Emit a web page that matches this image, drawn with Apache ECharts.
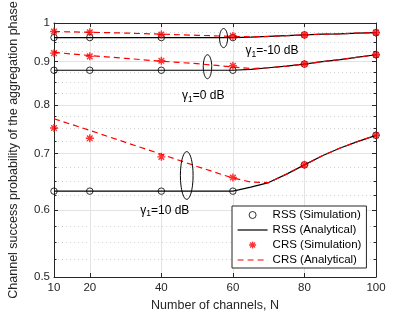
<!DOCTYPE html>
<html><head><meta charset="utf-8">
<script src="https://cdn.jsdelivr.net/npm/echarts@6/dist/echarts.min.js"></script>
<style>html,body{margin:0;padding:0;background:#fff}#c{width:415px;height:312px}</style>
</head><body><div id="c"></div>
<script>
const FONT = '"Liberation Sans", Arial, Helvetica, sans-serif';

// ---- data ----
const simN = [10, 20, 40, 60, 80, 100];
const rssSimM10 = [0.961, 0.961, 0.961, 0.961, 0.968, 0.974];
const rssSim0   = [0.879, 0.879, 0.879, 0.879, 0.894, 0.917];
const rssSim10  = [0.632, 0.632, 0.632, 0.632, 0.679, 0.736];
const crsSimM10 = [0.977, 0.975, 0.969, 0.965, 0.968, 0.974];
const crsSim0   = [0.921, 0.913, 0.902, 0.890, 0.894, 0.917];
const crsSim10  = [0.751, 0.730, 0.694, 0.656, 0.679, 0.736];

const anaN = [10, 20, 30, 40, 50, 60, 65, 70, 75, 80, 85, 90, 95, 100];
const rssAnaM10 = [0.961, 0.961, 0.961, 0.961, 0.961, 0.961, 0.962, 0.964, 0.966, 0.968, 0.970, 0.971, 0.973, 0.974];
const rssAna0   = [0.879, 0.879, 0.879, 0.879, 0.879, 0.879, 0.881, 0.885, 0.889, 0.894, 0.900, 0.905, 0.911, 0.917];
const rssAna10  = [0.632, 0.632, 0.632, 0.632, 0.632, 0.632, 0.639, 0.647, 0.662, 0.679, 0.696, 0.711, 0.724, 0.736];
const crsAnaM10 = [0.977, 0.975, 0.973, 0.970, 0.967, 0.964, 0.963, 0.964, 0.966, 0.968, 0.970, 0.971, 0.973, 0.974];
const crsAna0   = [0.923, 0.915, 0.908, 0.901, 0.895, 0.887, 0.883, 0.885, 0.889, 0.894, 0.900, 0.905, 0.911, 0.917];
const crsAna10  = [0.770, 0.746, 0.722, 0.699, 0.676, 0.655, 0.648, 0.647, 0.662, 0.679, 0.696, 0.711, 0.724, 0.736];

const xTicks = [10, 20, 40, 60, 80, 100];
const yTicks = [0.5, 0.6, 0.7, 0.8, 0.9, 1];
const yMinorTicks = [0.525, 0.55, 0.575, 0.625, 0.65, 0.675, 0.725, 0.75, 0.775, 0.825, 0.85, 0.875, 0.925, 0.95, 0.975];

const legendNames = ['RSS (Simulation)', 'RSS (Analytical)', 'CRS (Simulation)', 'CRS (Analytical)'];

// annotations (data space)
const snrLabels = ['-10', '0', '10'];
const ellipseN = [57.4, 52.9, 47.1];
const ellipseHalfN = [1.12, 1.18, 1.77];
const ellipseTop = [0.985, 0.917, 0.704];
const ellipseBottom = [0.935, 0.859, 0.618];
const labelN = [63.5, 45.8, 34.1];
const labelY = [0.926, 0.820, 0.600];

// ---- build ----
const pairs = (xs, ys) => xs.map((x, i) => [x, ys[i]]);
const ASTER = 'path://M5,0L5,10M0,5L10,5M1.5,1.5L8.5,8.5M1.5,8.5L8.5,1.5';
const AX = '#262626';

function lineSeries(name, ys, color, dashed) {
  return {
    type: 'line', name, data: pairs(anaN, ys), symbol: 'none', silent: true, z: 3,
    lineStyle: { color, width: 1.2, type: dashed ? [6, 4] : 'solid' }, itemStyle: { color }
  };
}

const minorAxisCommon = {
  type: 'log', logBase: 10, min: 0.5, max: 1,
  axisLine: { show: false }, axisLabel: { show: false }
};

const option = {
  animation: false,
  backgroundColor: '#fff',
  grid: { left: 54, top: 23, width: 322, height: 254, containLabel: false, outerBoundsMode: 'none', show: false },
  xAxis: [
    {
      type: 'value', min: 10, max: 100, position: 'bottom',
      name: 'Number of channels, N', nameLocation: 'middle', nameGap: 18,
      nameTextStyle: { fontFamily: FONT, fontSize: 12.5, color: AX },
      axisLine: { show: true, onZero: false, lineStyle: { color: AX, width: 1 } },
      axisTick: { show: true, inside: true, length: 4, customValues: xTicks, lineStyle: { color: AX } },
      axisLabel: { customValues: xTicks, fontFamily: FONT, fontSize: 11.5, color: AX, margin: 5 },
      splitLine: { show: true, lineStyle: { color: '#e3e3e3', width: 1 } }
    },
    {
      type: 'value', min: 10, max: 100, position: 'top',
      axisLine: { show: true, onZero: false, lineStyle: { color: AX, width: 1 } },
      axisTick: { show: true, inside: true, length: 4, customValues: xTicks, lineStyle: { color: AX } },
      axisLabel: { show: false }, splitLine: { show: false }
    }
  ],
  yAxis: [
    {
      type: 'log', logBase: 10, min: 0.5, max: 1, position: 'left',
      name: 'Channel success probability of the aggregation phase', nameLocation: 'middle', nameGap: 34,
      nameMoveOverlap: false,
      nameTextStyle: { fontFamily: FONT, fontSize: 12.5, color: AX },
      axisLine: { show: true, onZero: false, lineStyle: { color: AX, width: 1 } },
      axisTick: { show: true, inside: true, length: 4, customValues: yTicks, lineStyle: { color: AX } },
      axisLabel: { customValues: yTicks, fontFamily: FONT, fontSize: 11.5, color: AX, margin: 4,
        formatter: v => String(parseFloat((+v).toFixed(2))) },
      splitLine: { show: true, lineStyle: { color: '#e3e3e3', width: 1 } }
    },
    Object.assign({}, minorAxisCommon, {
      position: 'left',
      axisTick: { show: true, inside: true, length: 2.5, customValues: yMinorTicks, lineStyle: { color: AX } },
      splitLine: { show: true, lineStyle: { color: '#d4d4d4', width: 1, type: [1, 3] } }
    }),
    {
      type: 'log', logBase: 10, min: 0.5, max: 1, position: 'right',
      axisLine: { show: true, onZero: false, lineStyle: { color: AX, width: 1 } },
      axisTick: { show: true, inside: true, length: 4, customValues: yTicks, lineStyle: { color: AX } },
      axisLabel: { show: false }, splitLine: { show: false }
    },
    Object.assign({}, minorAxisCommon, {
      position: 'right',
      axisTick: { show: true, inside: true, length: 2.5, customValues: yMinorTicks, lineStyle: { color: AX } },
      splitLine: { show: false }
    })
  ],
  legend: {
    data: [
      { name: legendNames[0], itemStyle: { color: 'rgba(0,0,0,0)', borderColor: '#000', borderWidth: 1 } },
      { name: legendNames[1], itemStyle: { opacity: 0 }, lineStyle: { color: '#000', width: 1.2, type: 'solid' } },
      { name: legendNames[2], itemStyle: { color: 'none', borderColor: '#ff0000', borderWidth: 1.3 } },
      { name: legendNames[3], itemStyle: { opacity: 0 }, lineStyle: { color: '#ff0000', width: 1.2, type: [6, 4] } }
    ],
    orient: 'vertical', left: 232, top: 206,
    itemWidth: 30, itemHeight: 7, itemGap: 1,
    padding: [2, 5, 1, 5],
    borderColor: AX, borderWidth: 1, backgroundColor: '#fff',
    textStyle: { fontFamily: FONT, fontSize: 11.5, color: '#000', lineHeight: 14 },
    selectedMode: false
  },
  series: [
    lineSeries(legendNames[1], rssAnaM10, '#000', false),
    lineSeries(legendNames[1], rssAna0, '#000', false),
    lineSeries(legendNames[1], rssAna10, '#000', false),
    lineSeries(legendNames[3], crsAnaM10, '#ff0000', true),
    lineSeries(legendNames[3], crsAna0, '#ff0000', true),
    lineSeries(legendNames[3], crsAna10, '#ff0000', true),
    {
      type: 'scatter', name: legendNames[0], z: 5, silent: true,
      data: [].concat(pairs(simN, rssSimM10), pairs(simN, rssSim0), pairs(simN, rssSim10)),
      symbol: 'circle', symbolSize: 6.5,
      itemStyle: { color: 'rgba(0,0,0,0)', borderColor: '#000', borderWidth: 1 }
    },
    {
      type: 'scatter', name: legendNames[2], z: 6, silent: true,
      data: [].concat(pairs(simN, crsSimM10), pairs(simN, crsSim0), pairs(simN, crsSim10)),
      symbol: ASTER, symbolSize: 8,
      itemStyle: { color: 'none', borderColor: '#ff0000', borderWidth: 1.4 }
    },
    {
      type: 'custom', name: 'ellipses', silent: true, z: 4,
      data: ellipseN.map((n, i) => [n, (ellipseTop[i] + ellipseBottom[i]) / 2, ellipseHalfN[i], ellipseTop[i], ellipseBottom[i]]),
      renderItem: (params, api) => {
        const n = api.value(0), dn = api.value(2);
        const t = api.coord([n, api.value(3)]);
        const b = api.coord([n, api.value(4)]);
        const r = api.coord([n + dn, api.value(1)]);
        const cx = t[0], cy = (t[1] + b[1]) / 2, ry = (b[1] - t[1]) / 2, rx = r[0] - t[0];
        const pts = [];
        for (let k = 0; k <= 60; k++) {
          const a = k / 60 * Math.PI * 2;
          pts.push([cx + rx * Math.cos(a), cy + ry * Math.sin(a)]);
        }
        return { type: 'polygon', shape: { points: pts }, style: { fill: 'none', stroke: '#000', lineWidth: 1 } };
      }
    },
    {
      type: 'custom', name: 'labels', silent: true, z: 7,
      data: labelN.map((n, i) => [n, labelY[i], i]),
      renderItem: (params, api) => {
        const p = api.coord([api.value(0), api.value(1)]);
        const lab = snrLabels[params.dataIndex];
        return {
          type: 'text', x: p[0], y: p[1],
          style: {
            text: '{g|γ}{s|1}{g|=' + lab + ' dB}',
            align: 'left', verticalAlign: 'middle',
            rich: {
              g: { fontFamily: FONT, fontSize: 12, color: '#000', lineHeight: 16 },
              s: { fontFamily: FONT, fontSize: 8.5, color: '#000', lineHeight: 9, verticalAlign: 'bottom' }
            }
          }
        };
      }
    }
  ]
};

const chart = echarts.init(document.getElementById('c'), null, { renderer: 'canvas' });
chart.setOption(option);
</script>
</body></html>
